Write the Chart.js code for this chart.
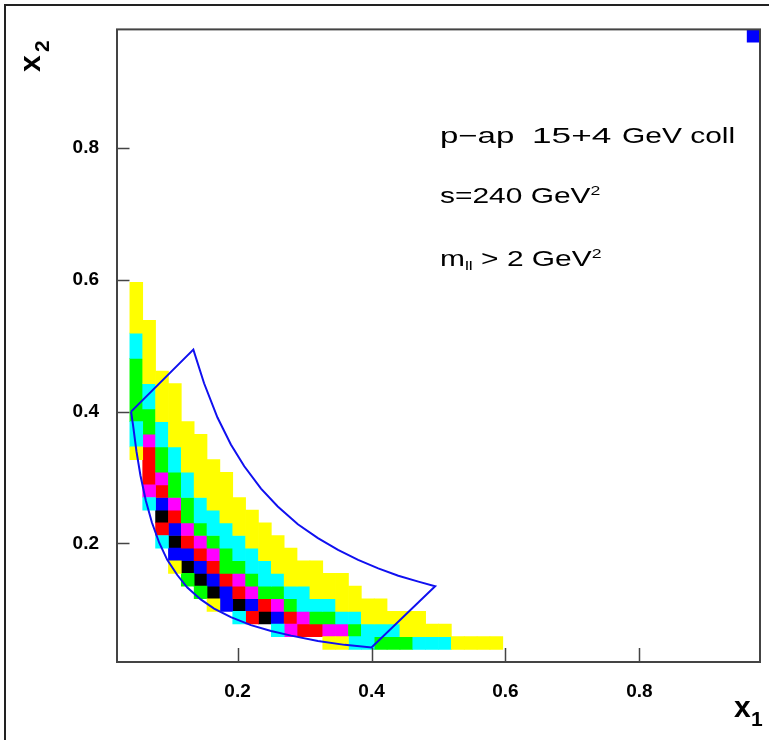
<!DOCTYPE html>
<html>
<head>
<meta charset="utf-8">
<title>x1 - x2, p-ap 15+4 GeV</title>
<script src="https://cdn.jsdelivr.net/npm/chart.js"></script>
<style>
  body { margin: 0; background: #fff; }
  canvas { display: block; }
</style>
</head>
<body>
<canvas id="chart" width="769" height="740"></canvas>
<script>
// binning of the 2D histogram (same on x1 and x2)
const binStart = 0.02;
const binWidth = 0.0192;
const axisMin = 0.02;
const axisMax = 0.98;
const xTickValues = [0.2, 0.4, 0.6, 0.8];
const yTickValues = [0.2, 0.4, 0.6, 0.8];

// colour level of every cell: one string per x1 column, first char = lowest x2 row
// '.' empty, y yellow, c cyan, g green, m magenta, r red, b blue, k black
const cellColumns = [
  '',
  '................yccgggggccyyyy',
  '............cmrrrmggccyyyyy',
  '.........crkbrmggccyyyy',
  '.......ybkbrmggccyyyyy',
  '......gkbrmggccyyyy',
  '.....gkbrmgccyyyyy',
  '....ykbrmgccyyyy',
  '....bbrggccyyyy',
  '...ckrmgccyyy',
  '...rbmgccyyy',
  '...krgccyyy',
  '..cbmgcyyy',
  '..mrgcyyy',
  '..rmccyy',
  '..rgcyyy',
  '.ymgcyy',
  '.ymcyyy',
  '.cgcyy',
  '.ccyy',
  '.gcyy',
  '.gcy',
  '.gyy',
  '.cyy',
  '.cy',
  '.cy',
  '.y',
  '.y',
  '.y',
  '.y'
];
// lone filled bin in the top right corner
const cornerCell = { col: 49, row: 49, level: 'b' };

const levelOrder = ['y', 'c', 'g', 'm', 'r', 'b', 'k'];
const levelColors = {
  y: '#ffff00', c: '#00ffff', g: '#00ff00', m: '#ff00ff',
  r: '#ff0000', b: '#0000ff', k: '#000000'
};

// kinematic boundary (blue outline)
const boundaryX = [0.041, 0.134, 0.15, 0.17, 0.19, 0.21, 0.235, 0.26, 0.29, 0.32, 0.35, 0.38, 0.41, 0.44, 0.47, 0.495,
                   0.400, 0.36, 0.32, 0.28, 0.25, 0.22, 0.19, 0.165, 0.145, 0.125, 0.11, 0.095, 0.083, 0.072, 0.063, 0.055, 0.049, 0.044, 0.041];
const boundaryY = [0.400, 0.494, 0.443, 0.391, 0.350, 0.317, 0.283, 0.256, 0.229, 0.208, 0.190, 0.175, 0.162, 0.151, 0.142, 0.135,
                   0.042, 0.046, 0.052, 0.060, 0.067, 0.076, 0.088, 0.101, 0.115, 0.133, 0.152, 0.175, 0.201, 0.232, 0.265, 0.303, 0.340, 0.379, 0.400];

// text pieces: [text, x, shift (0 normal, -1 superscript, 1 subscript), stretch]
const annotationLines = [
  { y: 143, parts: [['p\u2212ap', 440, 0, 1.5], ['15+4', 532, 0, 1.6], ['GeV coll', 622, 0, 1.36]] },
  { y: 203, parts: [['s=240 GeV', 440, 0, 1.36], ['2', null, -1, 1.36]] },
  { y: 266, parts: [['m', 440, 0, 1.36], ['ll', null, 1, 1.36], [' > 2 GeV', null, 0, 1.36], ['2', null, -1, 1.36]] }
];

// one floating bar per run of equal cells in a column
function cellsFor(level) {
  const out = [];
  const cols = cellColumns.map((s, i) => ({ i, s }));
  cols.push({ i: cornerCell.col, s: '.'.repeat(cornerCell.row) + cornerCell.level });
  cols.forEach(({ i, s }) => {
    let j = 0;
    while (j < s.length) {
      if (s[j] !== level) { j++; continue; }
      let k = j;
      while (k + 1 < s.length && s[k + 1] === level) k++;
      out.push({
        x: binStart + binWidth * (i + 0.5),
        y: [binStart + binWidth * j, binStart + binWidth * (k + 1)]
      });
      j = k + 1;
    }
  });
  return out;
}

const datasets = [{
  type: 'line',
  label: 'boundary',
  data: boundaryX.map((x, k) => ({ x: x, y: boundaryY[k] })),
  borderColor: '#1010f0',
  borderWidth: 2,
  pointRadius: 0,
  fill: false,
  tension: 0,
  order: -1
}];
levelOrder.forEach(lv => {
  datasets.push({
    type: 'bar',
    label: lv,
    data: cellsFor(lv),
    backgroundColor: levelColors[lv],
    borderWidth: 0,
    barPercentage: 1,
    categoryPercentage: 1,
    grouped: false,
    order: 1
  });
});

const labelFont = { family: '"Liberation Sans", Arial, sans-serif', size: 19, weight: 'bold' };

const rootStyle = {
  id: 'rootStyle',
  beforeDraw(chart) {
    const ctx = chart.ctx;
    ctx.save();
    ctx.fillStyle = '#fff';
    ctx.fillRect(0, 0, chart.width, chart.height);
    ctx.strokeStyle = '#222';
    ctx.lineWidth = 2;
    ctx.beginPath();
    ctx.moveTo(5, chart.height);
    ctx.lineTo(5, 5);
    ctx.lineTo(chart.width, 5);
    ctx.stroke();
    ctx.restore();
  },
  afterDraw(chart) {
    const ctx = chart.ctx;
    const a = chart.chartArea;
    const sx = chart.scales.x, sy = chart.scales.y;
    ctx.save();
    // frame + inward ticks
    ctx.strokeStyle = '#444';
    ctx.lineWidth = 2;
    ctx.strokeRect(a.left, a.top, a.right - a.left, a.bottom - a.top);
    ctx.lineWidth = 1.5;
    ctx.beginPath();
    xTickValues.forEach(v => {
      const px = Math.round(sx.getPixelForValue(v)) + 0.5;
      ctx.moveTo(px, a.bottom);
      ctx.lineTo(px, a.bottom - 14);
    });
    yTickValues.forEach(v => {
      const py = Math.round(sy.getPixelForValue(v)) + 0.5;
      ctx.moveTo(a.left, py);
      ctx.lineTo(a.left + 12.5, py);
    });
    ctx.stroke();

    // axis titles
    ctx.fillStyle = '#000';
    ctx.textBaseline = 'alphabetic';
    ctx.textAlign = 'left';
    ctx.font = 'bold 30px "Liberation Sans", Arial, sans-serif';
    ctx.fillText('x', 734, 717);
    ctx.font = 'bold 21px "Liberation Sans", Arial, sans-serif';
    ctx.fillText('1', 751, 726);

    ctx.save();
    ctx.translate(40, 72);
    ctx.rotate(-Math.PI / 2);
    ctx.font = 'bold 30px "Liberation Sans", Arial, sans-serif';
    ctx.fillText('x', 0, 0);
    ctx.font = 'bold 21px "Liberation Sans", Arial, sans-serif';
    ctx.fillText('2', 20, 9);
    ctx.restore();

    // annotation text
    annotationLines.forEach(line => {
      let cx = 0;
      line.parts.forEach(([t, x0, shift, stretch]) => {
        if (x0 !== null) cx = x0;
        const size = shift === 0 ? 22 : 13;
        ctx.font = size + 'px "Liberation Sans", Arial, sans-serif';
        const dy = shift < 0 ? -8 : (shift > 0 ? 4 : 0);
        ctx.save();
        ctx.translate(cx, line.y + dy);
        ctx.scale(stretch, 1);
        ctx.fillText(t, 0, 0);
        ctx.restore();
        cx += ctx.measureText(t).width * stretch;
      });
    });
    ctx.restore();
  }
};

new Chart(document.getElementById('chart'), {
  type: 'bar',
  data: { datasets: datasets },
  options: {
    responsive: false,
    animation: false,
    devicePixelRatio: 1,
    layout: { padding: { top: 23, right: 9, left: 0, bottom: 0 } },
    plugins: { legend: { display: false }, tooltip: { enabled: false } },
    scales: {
      x: {
        type: 'linear',
        min: axisMin,
        max: axisMax,
        offset: false,
        grid: { display: false, drawTicks: false },
        border: { display: false },
        ticks: { color: '#000', font: labelFont, padding: 18, maxRotation: 0,
                 callback: v => v.toFixed(1) },
        afterBuildTicks: s => { s.ticks = xTickValues.map(v => ({ value: v })); },
        afterFit: s => { s.height = 78; }
      },
      y: {
        type: 'linear',
        min: axisMin,
        max: axisMax,
        grid: { display: false, drawTicks: false },
        border: { display: false },
        ticks: { color: '#000', font: labelFont, padding: 18,
                 callback: v => v.toFixed(1) },
        afterBuildTicks: s => { s.ticks = yTickValues.map(v => ({ value: v })); },
        afterFit: s => { s.width = 117; }
      }
    }
  },
  plugins: [rootStyle]
});
</script>
</body>
</html>
